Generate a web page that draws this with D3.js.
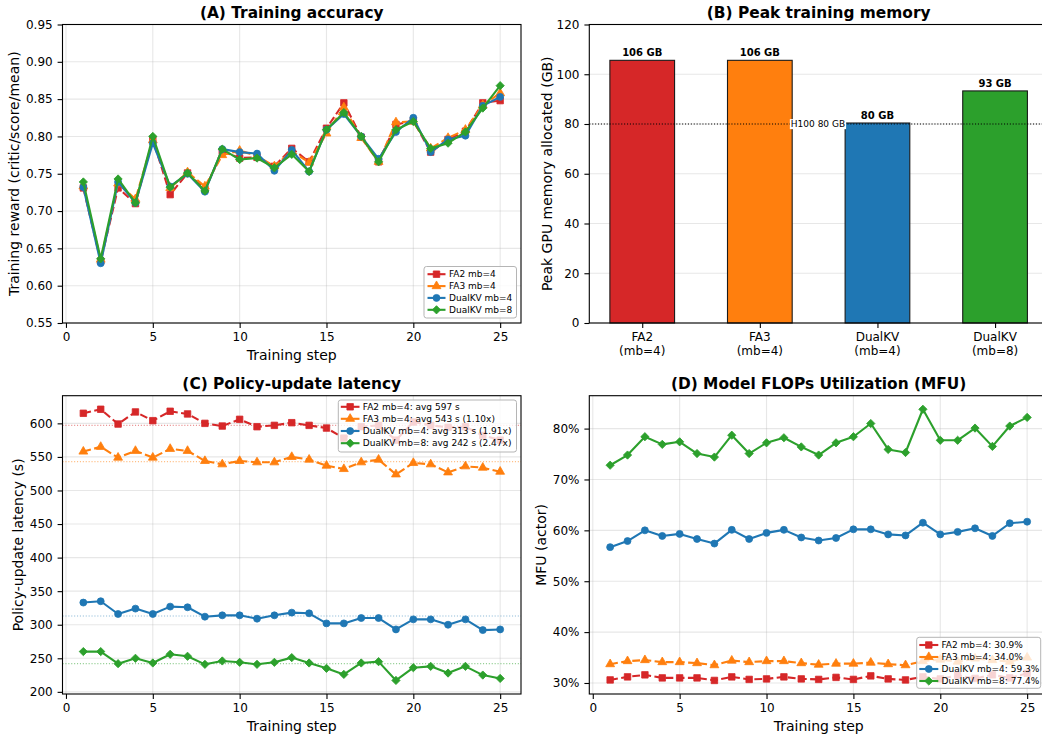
<!DOCTYPE html>
<html><head><meta charset="utf-8">
<script src="https://cdn.jsdelivr.net/npm/d3@7"></script>
<style>body{margin:0;background:#fff} svg{display:block;font-family:"DejaVu Sans",sans-serif}</style>
</head><body><svg id="c" width="1042" height="736"></svg>
<script>
// ---------- data ----------
const steps = d3.range(1, 26);
const seriesNames = ["FA2 mb=4", "FA3 mb=4", "DualKV mb=4", "DualKV mb=8"];

const accFA2  = [0.731,0.633,0.731,0.710,0.796,0.722,0.751,0.729,0.780,0.771,0.772,0.760,0.784,0.766,0.811,0.845,0.799,0.766,0.816,0.821,0.779,0.796,0.807,0.845,0.848];
const accFA3  = [0.733,0.635,0.737,0.716,0.795,0.731,0.752,0.733,0.775,0.781,0.774,0.760,0.780,0.765,0.804,0.839,0.798,0.766,0.819,0.820,0.784,0.798,0.809,0.842,0.858];
const accDKV4 = [0.732,0.630,0.739,0.711,0.791,0.733,0.750,0.726,0.783,0.779,0.777,0.754,0.782,0.753,0.809,0.830,0.800,0.770,0.806,0.825,0.779,0.796,0.801,0.841,0.853];
const accDKV8 = [0.739,0.636,0.743,0.711,0.800,0.732,0.751,0.727,0.783,0.769,0.771,0.758,0.776,0.753,0.809,0.832,0.800,0.766,0.809,0.820,0.784,0.791,0.806,0.838,0.868];
const accTicks = [0.55,0.60,0.65,0.70,0.75,0.80,0.85,0.90,0.95];

const memNames = ["FA2", "FA3", "DualKV", "DualKV"];
const memSub = ["(mb=4)", "(mb=4)", "(mb=4)", "(mb=8)"];
const memValues = [105.6, 105.6, 80.4, 93.3];
const h100Limit = 80;
const memTicks = [0, 20, 40, 60, 80, 100, 120];

const latFA2  = [615,621,599,617,604,618,614,600,596,606,595,597,601,597,593,578,595,597,575,602,597,594,595,582,575];
const latFA3  = [558,565,549,559,549,562,559,544,539,544,542,542,550,546,537,532,542,546,524,541,539,527,536,534,528];
const latDKV4 = [333,335,316,324,316,327,326,312,314,314,309,314,318,317,302,302,310,310,293,308,308,300,308,292,293];
const latDKV8 = [260,260,242,250,243,256,253,241,246,244,241,244,251,243,235,226,243,245,217,236,238,228,238,225,220];
const latAvg = [597, 543, 313, 242];
const latLegend = ["FA2 mb=4: avg 597 s", "FA3 mb=4: avg 543 s (1.10x)", "DualKV mb=4: avg 313 s (1.91x)", "DualKV mb=8: avg 242 s (2.47x)"];
const latTicks = [200,250,300,350,400,450,500,550,600];

const mfuFA2  = [30.6,31.2,31.6,31.0,31.0,31.0,30.5,31.2,30.7,30.8,31.2,30.8,30.7,31.1,30.7,31.4,30.8,30.6,31.2,30.8,31.5,30.9,31.6,31.0,31.9];
const mfuFA3  = [33.7,34.3,34.5,34.1,34.1,33.9,33.5,34.4,34.1,34.3,34.3,33.9,33.6,33.8,33.8,34.0,33.7,33.5,34.3,34.6,34.2,34.8,34.5,34.2,35.0];
const mfuDKV4 = [56.7,57.9,60.0,58.9,59.3,58.3,57.4,60.1,58.3,59.5,60.1,58.6,58.0,58.5,60.2,60.2,59.2,59.0,61.5,59.2,59.7,60.4,58.9,61.4,61.7];
const mfuDKV8 = [72.8,74.8,78.4,76.9,77.4,75.1,74.4,78.7,75.1,77.2,78.2,76.4,74.8,77.2,78.4,81.0,75.9,75.3,83.8,77.7,77.7,80.1,76.5,80.5,82.2];
const mfuLegend = ["FA2 mb=4: 30.9%", "FA3 mb=4: 34.0%", "DualKV mb=4: 59.3%", "DualKV mb=8: 77.4%"];
const mfuTicks = [30,40,50,60,70,80];

const stepTicks = [0,5,10,15,20,25];

// ---------- styles ----------
const colors = ["#d62728", "#ff7f0e", "#1f77b4", "#2ca02c"];
const dashes = ["7.8,3.4", "7.8,3.4", null, null];
const markers = ["square", "triangle", "circle", "diamond"];

const svg = d3.select("#c");
const LW = 2.1, TICK = 4.9, PAD = 4.9;
const colL = [62.5, 521], colR = [589.3, 1048];
const rowT = [24.5, 323], rowB = [395.7, 694];

function markerPath(kind) {
  if (kind === "square") return d3.symbol(d3.symbolSquare, 42)();
  if (kind === "triangle") return d3.symbol(d3.symbolTriangle, 34)();
  if (kind === "circle") return d3.symbol(d3.symbolCircle, 38)();
  return d3.symbol(d3.symbolSquare, 34)();
}
function drawMarker(g, kind, x, y, color) {
  g.append("path").attr("d", markerPath(kind))
    .attr("transform", `translate(${x},${y})` + (kind === "diamond" ? " rotate(45)" : ""))
    .attr("fill", color).attr("stroke", color).attr("stroke-width", 0.8);
}

function padDomain(arrs) {
  const all = arrs.flat();
  const lo = d3.min(all), hi = d3.max(all), p = (hi - lo) * 0.05;
  return [lo - p, hi + p];
}

function frame(g, xr, yr) {
  g.append("rect").attr("x", xr[0]).attr("y", yr[0]).attr("width", xr[1] - xr[0]).attr("height", yr[1] - yr[0])
    .attr("fill", "none").attr("stroke", "#000").attr("stroke-width", 1.1);
}

function styleAxis(a) {
  a.select(".domain").remove();
  a.selectAll(".tick line").attr("stroke", "#000").attr("stroke-width", 1.1);
  a.selectAll(".tick text").attr("font-size", 12).attr("fill", "#000").attr("font-family", "DejaVu Sans");
}

function title(txt, cx, y) {
  svg.append("text").attr("x", cx).attr("y", y).attr("text-anchor", "middle")
    .attr("font-weight", "bold").attr("font-size", 15.4).text(txt);
}
function ylabel(txt, x, cy) {
  svg.append("text").attr("transform", `translate(${x},${cy}) rotate(-90)`).attr("text-anchor", "middle")
    .attr("font-size", 14).text(txt);
}

function legend(g, opt) {
  const [bx0, by0, bx1, by1] = opt.box;
  g.append("rect").attr("x", bx0).attr("y", by0).attr("width", bx1 - bx0).attr("height", by1 - by0)
    .attr("rx", 2.5).attr("fill", "#fff").attr("fill-opacity", 0.8).attr("stroke", "#b5b5b5").attr("stroke-width", 1);
  opt.labels.forEach((lab, i) => {
    const y = opt.rows[i];
    g.append("line").attr("x1", opt.lx[0]).attr("x2", opt.lx[1]).attr("y1", y).attr("y2", y)
      .attr("stroke", colors[i]).attr("stroke-width", LW);
    drawMarker(g, markers[i], (opt.lx[0] + opt.lx[1]) / 2, y, colors[i]);
    g.append("text").attr("x", opt.tx).attr("y", y).attr("dy", "0.36em").attr("font-size", 9).text(lab);
  });
}

function linePanel(opt) {
  const g = svg.append("g");
  const x = d3.scaleLinear().domain([-0.2, 26.2]).range(opt.xr);
  const y = d3.scaleLinear().domain(opt.ydom).range([opt.yr[1], opt.yr[0]]);
  // grid
  g.append("g").selectAll("line").data(stepTicks).join("line")
    .attr("x1", d => x(d)).attr("x2", d => x(d)).attr("y1", opt.yr[0]).attr("y2", opt.yr[1])
    .attr("stroke", "#b0b0b0").attr("stroke-opacity", 0.3).attr("stroke-width", 1.1);
  g.append("g").selectAll("line").data(opt.yticks).join("line")
    .attr("x1", opt.xr[0]).attr("x2", opt.xr[1]).attr("y1", d => y(d)).attr("y2", d => y(d))
    .attr("stroke", "#b0b0b0").attr("stroke-opacity", 0.3).attr("stroke-width", 1.1);
  // avg lines
  if (opt.avg) {
    opt.avg.forEach((v, i) => {
      g.append("line").attr("x1", opt.xr[0]).attr("x2", opt.xr[1]).attr("y1", y(v)).attr("y2", y(v))
        .attr("stroke", colors[i]).attr("stroke-opacity", 0.5).attr("stroke-width", 1.1).attr("stroke-dasharray", "1.1,1.8");
    });
  }
  const line = d3.line().x((d, i) => x(steps[i])).y(d => y(d));
  opt.series.forEach((s, k) => {
    g.append("path").attr("d", line(s)).attr("fill", "none").attr("stroke", colors[k])
      .attr("stroke-width", LW).attr("stroke-dasharray", dashes[k]).attr("stroke-linejoin", "round");
    s.forEach((v, i) => drawMarker(g, markers[k], x(steps[i]), y(v), colors[k]));
  });
  // axes
  const ax = g.append("g").attr("transform", `translate(0,${opt.yr[1]})`)
    .call(d3.axisBottom(x).tickValues(stepTicks).tickSize(TICK).tickPadding(PAD).tickFormat(d3.format("d")));
  styleAxis(ax);
  const ay = g.append("g").attr("transform", `translate(${opt.xr[0]},0)`)
    .call(d3.axisLeft(y).tickValues(opt.yticks).tickSize(TICK).tickPadding(PAD).tickFormat(opt.yfmt));
  styleAxis(ay);
  frame(g, opt.xr, opt.yr);
  // x label
  g.append("text").attr("x", (opt.xr[0] + opt.xr[1]) / 2).attr("y", opt.yr[1] + 36.5)
    .attr("text-anchor", "middle").attr("font-size", 14).text("Training step");
  legend(g, opt.legend);
}

// ---------- (A) ----------
linePanel({
  xr: colL, yr: rowT, ydom: [0.55, 0.95], yticks: accTicks, yfmt: d3.format(".2f"),
  series: [accFA2, accFA3, accDKV4, accDKV8],
  legend: { box: [424, 266.5, 516.5, 318], rows: [274.2, 286.1, 297.9, 309.8], lx: [427.5, 445.5], tx: 449, labels: seriesNames }
});
title("(A) Training accuracy", (colL[0] + colL[1]) / 2, 18);
ylabel("Training reward (critic/score/mean)", 19, (rowT[0] + rowT[1]) / 2);

// ---------- (B) ----------
(function () {
  const g = svg.append("g");
  const x = d3.scaleLinear().domain([-0.45, 3.45]).range(colR);
  const y = d3.scaleLinear().domain([0, 120]).range([rowT[1], rowT[0]]);
  const bw = 0.55;
  g.append("g").selectAll("line").data(memTicks).join("line")
    .attr("x1", colR[0]).attr("x2", colR[1]).attr("y1", d => y(d)).attr("y2", d => y(d))
    .attr("stroke", "#b0b0b0").attr("stroke-opacity", 0.3).attr("stroke-width", 1.1);
  g.append("g").selectAll("rect").data(memValues).join("rect")
    .attr("x", (d, i) => x(i - bw / 2)).attr("width", (d, i) => x(i + bw / 2) - x(i - bw / 2))
    .attr("y", d => y(d)).attr("height", d => y(0) - y(d))
    .attr("fill", (d, i) => colors[i]).attr("stroke", "#1a1a1a").attr("stroke-width", 1.1);
  g.append("line").attr("x1", colR[0]).attr("x2", colR[1]).attr("y1", y(h100Limit)).attr("y2", y(h100Limit))
    .attr("stroke", "#000").attr("stroke-width", 1.1).attr("stroke-dasharray", "1.1,1.8");
  const lab = g.append("text").attr("x", x(2 - bw / 2)).attr("y", y(h100Limit)).attr("dy", "0.35em")
    .attr("text-anchor", "end").attr("font-size", 9).text(`H100 ${h100Limit} GB`);
  const bb = lab.node().getBBox();
  g.insert("rect", "text").attr("x", bb.x - 1).attr("y", bb.y).attr("width", bb.width + 2).attr("height", bb.height)
    .attr("fill", "#fff");
  g.append("g").selectAll("text").data(memValues).join("text")
    .attr("x", (d, i) => x(i)).attr("y", d => y(d) - 4).attr("text-anchor", "middle")
    .attr("font-size", 10).attr("font-weight", "bold").text(d => `${d3.format(".0f")(d)} GB`);
  const ax = g.append("g").attr("transform", `translate(0,${rowT[1]})`)
    .call(d3.axisBottom(x).tickValues(d3.range(memValues.length)).tickSize(TICK).tickPadding(PAD).tickFormat(""));
  styleAxis(ax);
  memNames.forEach((n, i) => {
    const t = g.append("text").attr("x", x(i)).attr("y", rowT[1] + TICK + PAD + 8.6).attr("text-anchor", "middle").attr("font-size", 12);
    t.append("tspan").attr("x", x(i)).text(n);
    t.append("tspan").attr("x", x(i)).attr("dy", 14).text(memSub[i]);
  });
  const ay = g.append("g").attr("transform", `translate(${colR[0]},0)`)
    .call(d3.axisLeft(y).tickValues(memTicks).tickSize(TICK).tickPadding(PAD).tickFormat(d3.format("d")));
  styleAxis(ay);
  frame(g, colR, rowT);
})();
title("(B) Peak training memory", (colR[0] + colR[1]) / 2, 18);
ylabel("Peak GPU memory allocated (GB)", 552, (rowT[0] + rowT[1]) / 2);

// ---------- (C) ----------
linePanel({
  xr: colL, yr: rowB, ydom: padDomain([latFA2, latFA3, latDKV4, latDKV8]), yticks: latTicks, yfmt: d3.format("d"),
  series: [latFA2, latFA3, latDKV4, latDKV8], avg: latAvg,
  legend: { box: [338.3, 400, 516.5, 452], rows: [406.8, 418.8, 431, 443.2], lx: [340.8, 359.5], tx: 362.8, labels: latLegend }
});
title("(C) Policy-update latency", (colL[0] + colL[1]) / 2, 389);
ylabel("Policy-update latency (s)", 23, (rowB[0] + rowB[1]) / 2);

// ---------- (D) ----------
linePanel({
  xr: colR, yr: rowB, ydom: padDomain([mfuFA2, mfuFA3, mfuDKV4, mfuDKV8]), yticks: mfuTicks, yfmt: d => d + "%",
  series: [mfuFA2, mfuFA3, mfuDKV4, mfuDKV8],
  legend: { box: [916.7, 637.3, 1040.7, 688.3], rows: [645, 657, 669, 681], lx: [919.3, 938.3], tx: 941.5, labels: mfuLegend }
});
title("(D) Model FLOPs Utilization (MFU)", (colR[0] + colR[1]) / 2, 389);
ylabel("MFU (actor)", 546, (rowB[0] + rowB[1]) / 2);
</script></body></html>
